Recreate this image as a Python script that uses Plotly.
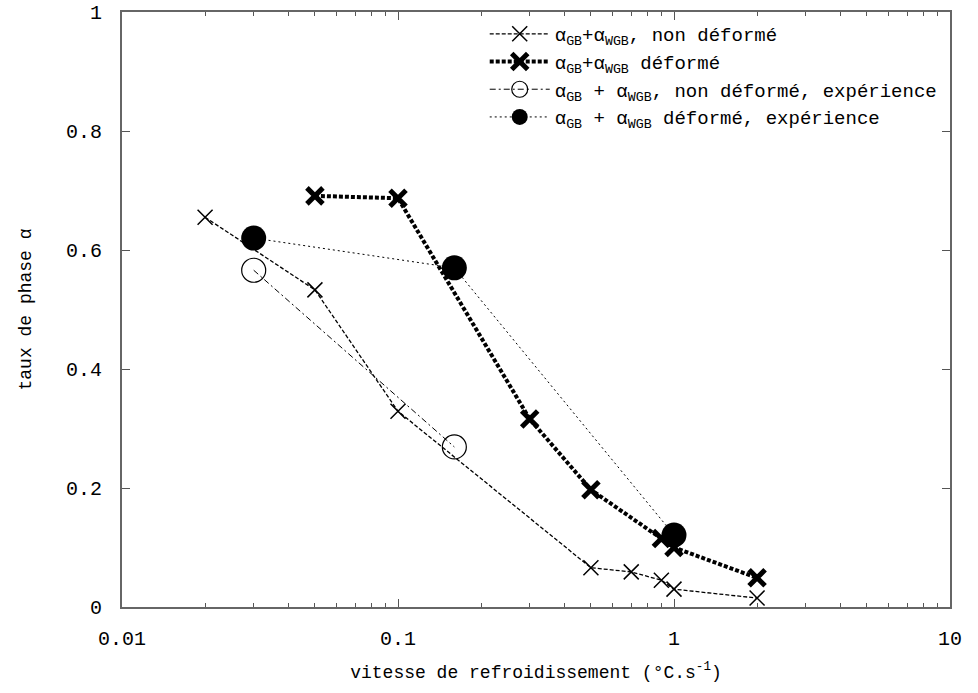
import plotly.graph_objects as go

# Data
x_nd = [0.02, 0.05, 0.1, 0.5, 0.7, 0.9, 1.0, 2.0]
y_nd = [0.655, 0.533, 0.329, 0.066, 0.059, 0.045, 0.030, 0.015]

x_d = [0.05, 0.1, 0.3, 0.5, 0.9, 1.0, 2.0]
y_d = [0.691, 0.687, 0.316, 0.197, 0.115, 0.100, 0.049]

x_nd_exp = [0.03, 0.16]
y_nd_exp = [0.566, 0.269]

x_d_exp = [0.03, 0.16, 1.0]
y_d_exp = [0.620, 0.570, 0.121]

names = [
    "α<sub>GB</sub>+α<sub>WGB</sub>, non déformé",
    "α<sub>GB</sub>+α<sub>WGB</sub> déformé",
    "α<sub>GB</sub> + α<sub>WGB</sub>, non déformé, expérience",
    "α<sub>GB</sub> + α<sub>WGB</sub> déformé, expérience",
]

x_tickvals = [0.01, 0.1, 1, 10]
x_ticktext = ["0.01", "0.1", "1", "10"]
y_tickvals = [0, 0.2, 0.4, 0.6, 0.8, 1]
y_ticktext = ["0", "0.2", "0.4", "0.6", "0.8", "1"]

FONT = "Liberation Mono, Courier New, monospace"

fig = go.Figure()
fig.add_trace(go.Scatter(
    x=x_nd, y=y_nd, name=names[0], mode="lines+markers",
    line=dict(color="black", width=1.3, dash="4px,2px"),
    marker=dict(symbol="x-thin", size=15, color="black",
                line=dict(color="black", width=1.5)),
))
fig.add_trace(go.Scatter(
    x=x_d, y=y_d, name=names[1], mode="lines+markers",
    line=dict(color="black", width=4, dash="4px,2px"),
    marker=dict(symbol="x-thin", size=16, color="black",
                line=dict(color="black", width=5)),
))
fig.add_trace(go.Scatter(
    x=x_nd_exp, y=y_nd_exp, name=names[2], mode="lines+markers",
    line=dict(color="black", width=1, dash="6px,3px,2px,3px"),
    marker=dict(symbol="circle-open", size=24, color="black",
                line=dict(color="black", width=1.2)),
))
fig.add_trace(go.Scatter(
    x=x_d_exp, y=y_d_exp, name=names[3], mode="lines+markers",
    line=dict(color="black", width=1, dash="2px,3px"),
    marker=dict(symbol="circle", size=25, color="black"),
))

minor_vals = [m * 10 ** e for e in (-2, -1, 0) for m in range(2, 10)]

fig.update_layout(
    width=978, height=693,
    margin=dict(l=122, r=28, t=12, b=86),
    paper_bgcolor="white", plot_bgcolor="white",
    font=dict(family=FONT, size=18, color="black"),
    showlegend=True,
    legend=dict(
        x=0.99, y=0.995, xanchor="right", yanchor="top",
        bgcolor="rgba(255,255,255,0)", borderwidth=0,
        font=dict(family=FONT, size=19), tracegroupgap=0,
        itemwidth=60,
    ),
    xaxis=dict(
        type="log", range=[-2, 1], automargin=False,
        tickvals=x_tickvals, ticktext=x_ticktext,
        ticks="inside", ticklen=8, tickcolor="#555",
        showline=True, linecolor="#666", linewidth=2, mirror="ticks",
        showgrid=False, zeroline=False, ticklabelstandoff=12,
        ticklabeloverflow="allow",
        minor=dict(tickvals=minor_vals, ticks="inside", ticklen=4,
                   tickcolor="#555", showgrid=False),
        tickfont=dict(family=FONT, size=20),
        title=dict(text="vitesse de refroidissement (°C.s<sup>-1</sup>)",
                   font=dict(family=FONT, size=18)),
    ),
    yaxis=dict(
        range=[0, 1], automargin=False,
        tickvals=y_tickvals, ticktext=y_ticktext,
        ticks="inside", ticklen=8, tickcolor="#555",
        showline=True, linecolor="#666", linewidth=2, mirror="ticks",
        showgrid=False, zeroline=False, ticklabelstandoff=14,
        ticklabeloverflow="allow",
        tickfont=dict(family=FONT, size=20),
        title=dict(text="taux de phase α", font=dict(family=FONT, size=18),
                   standoff=30),
    ),
)

fig.write_html(
    "out.html",
    config={"displayModeBar": False},
    post_script="document.body.style.margin='0';document.body.style.padding='0';",
)
